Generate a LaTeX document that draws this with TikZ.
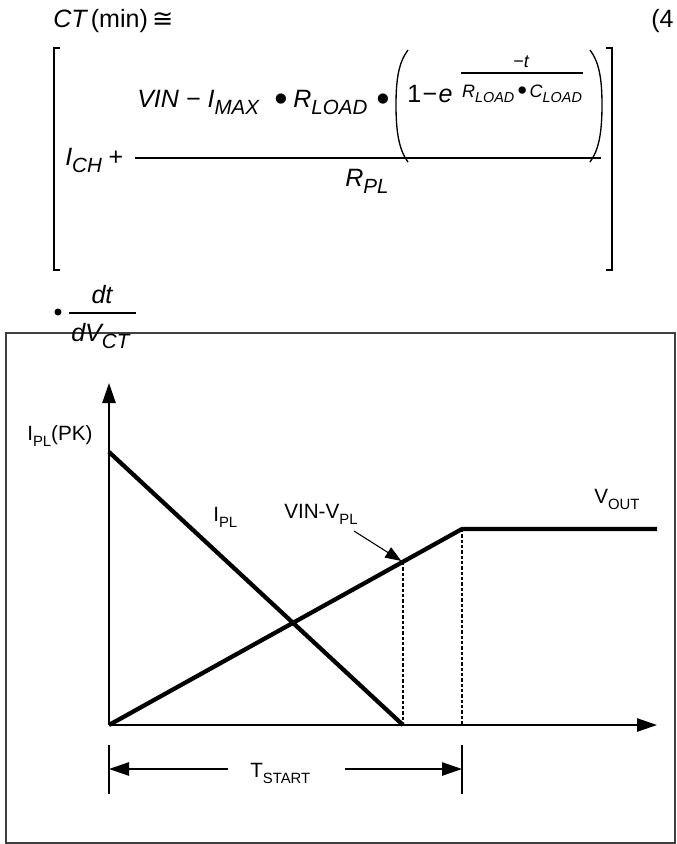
\documentclass[tikz,border=0pt]{standalone}
\usepackage{fontspec}
\setmainfont{Liberation Sans}
\newfontfamily\symfont{DejaVu Sans}
\usepackage{graphicx}
\usetikzlibrary{arrows.meta}

\newcommand\subtxt[2][0.72]{\raisebox{-0.3em}{\scalebox{#1}{#2}}}
\newcommand\bigdot{\raisebox{-0.16em}{\scalebox{1.5}{•}}}

\begin{document}
\begin{tikzpicture}[x=0.75pt, y=-0.75pt,
        eq/.style={font=\fontsize{18.8}{21}\selectfont\itshape, inner sep=0pt},
        expo/.style={font=\fontsize{13.5}{16}\selectfont\itshape, inner sep=0pt},
        lbl/.style={font=\fontsize{15.5}{18}\selectfont, inner sep=0pt},
        curve/.style={line width=3.2pt},
        axis/.style={line width=1.1pt, -{Triangle[length=15pt,width=10pt]}},
        dim/.style={line width=1.1pt, -{Triangle[length=15pt,width=10pt]}},
        guide/.style={line width=0.8pt, dash pattern=on 2.5pt off 1.5pt},
        brk/.style={line width=1pt}]

        \useasboundingbox (0,0) rectangle (676,844);

        % equation

        \node[eq, anchor=base west] (ct) at (53,27) {CT\,\upshape(min)\,{\symfont\fontsize{19}{20}\selectfont ≅}};
        \node[eq, anchor=base west] (eqno) at (651,27) {\upshape(4};

        \draw[brk] (60,48) -- (54,48) -- (54,270) -- (60,270); % left bracket
        \draw[brk] (606,48) -- (612,48) -- (612,270) -- (606,270); % right bracket

        \node[eq, anchor=base west] (vin) at (137,107) {VIN − I\subtxt[0.82]{MAX}};
        \node[eq, anchor=base] (dota) at (281,107) {\bigdot};
        \node[eq, anchor=base west] (rload) at (293,107) {R\subtxt[0.82]{LOAD}};
        \node[eq, anchor=base] (dotb) at (383,107) {\bigdot};

        \draw[brk] (408,50) .. controls (399,62) and (396,78) .. (396,105)
            .. controls (396,132) and (399,150) .. (408,162); % left paren
        \draw[brk] (590,50) .. controls (599,62) and (602,78) .. (602,105)
            .. controls (602,132) and (599,150) .. (590,162); % right paren

        \node[eq, anchor=base west] (one) at (407,102) {\upshape 1\kern1pt−\kern1pt\itshape e};
        \node[expo, anchor=base] (mt) at (521,67) {−t};
        \draw[brk] (461,73) -- (583,73);
        \node[expo, anchor=base] (rc) at (522,97) {R\subtxt[0.8]{LOAD}\,\bigdot\,C\subtxt[0.8]{LOAD}};

        \node[eq, anchor=base west] (ich) at (65,165) {I\subtxt[0.82]{CH}\hspace{5pt}\upshape+};
        \draw[brk] (135,158) -- (601,158);
        \node[eq, anchor=base west] (rpl) at (345,186) {R\subtxt[0.82]{PL}};

        % frame

        \draw[line width=1.4pt, black!75] (6,333) rectangle (675,843);

        \fill (58,312) circle (3.5);
        \node[eq, anchor=base] (dt) at (102,303) {dt};
        \draw[brk] (69,313) -- (136,313);
        \node[eq, anchor=base west] (dv) at (71,341) {dV\subtxt[0.82]{CT}};

        % graph

        \coordinate (O) at (109,725);
        \coordinate (ytop) at (109,383);
        \coordinate (xend) at (657,725);
        \coordinate (ipk) at (109,452);
        \coordinate (iend) at (403,725);
        \coordinate (vpl) at (403,562);
        \coordinate (knee) at (462,529);
        \coordinate (kneefoot) at (462,725);
        \coordinate (vend) at (657,529);
        \coordinate (lead) at (354,531);

        \draw[axis] (O) -- (ytop);
        \draw[axis] (O) -- (xend);

        \draw[curve] (ipk) -- (iend); % I_PL
        \draw[curve] (O) -- (knee) -- (vend); % VIN-V_PL, V_OUT

        \draw[guide] (vpl) -- (iend);
        \draw[guide] (knee) -- (kneefoot);

        \draw[line width=0.8pt, -{Triangle[length=12pt,width=9pt]}, shorten >=1.5pt] (lead) -- (vpl);

        \node[lbl, anchor=base west] (ipklbl) at (27,440) {I\subtxt{PL}(PK)};
        \node[lbl, anchor=base west] (ipllbl) at (213,521) {I\subtxt{PL}};
        \node[lbl, anchor=base west] (vpllbl) at (284,518) {VIN-V\subtxt{PL}};
        \node[lbl, anchor=base west] (voutlbl) at (594,503) {V\subtxt{OUT}};

        % start time

        \coordinate (tla) at (109,745);
        \coordinate (tlb) at (109,794);
        \coordinate (tra) at (462,745);
        \coordinate (trb) at (462,794);
        \coordinate (dl) at (228,769);
        \coordinate (dlend) at (109,769);
        \coordinate (dr) at (345,769);
        \coordinate (drend) at (462,769);

        \draw[line width=0.8pt] (tla) -- (tlb);
        \draw[line width=0.8pt] (tra) -- (trb);
        \draw[dim] (dl) -- (dlend);
        \draw[dim] (dr) -- (drend);

        \node[lbl, anchor=base west] (tstart) at (250,777) {T\subtxt{START}};

    \end{tikzpicture}
\end{document}
